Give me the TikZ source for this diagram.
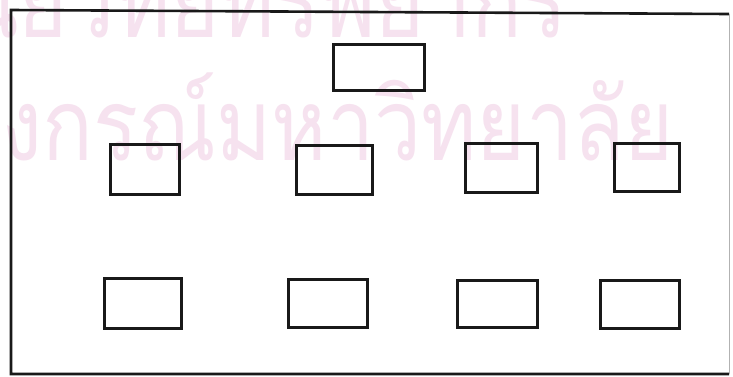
\documentclass[tikz,border=0pt]{standalone}
\usepackage{fontspec}
\newfontfamily\thaifont[Script=Thai]{Loma}
\definecolor{wmpink}{RGB}{246,226,239}
\definecolor{inkblack}{RGB}{25,25,25}
\tikzset{
  hbox/.style={draw=inkblack, line width=3pt, rectangle, inner sep=0pt, outer sep=0pt, fill=none},
  frameline/.style={draw=inkblack, line width=2.6pt},
  faintline/.style={draw=black!30, line width=1pt},
  watermark/.style={text=wmpink, inner sep=0pt, font=\thaifont\fontsize{100}{120}\selectfont}
}
\begin{document}
\begin{tikzpicture}[x=1pt,y=-1pt]
\useasboundingbox (0,0) rectangle (733,376);
\clip (0,0) rectangle (733,376);
\fill[white] (0,0) rectangle (733,376);
% watermark
\node[watermark, anchor=base east] (wm1) at (568,37) {\scalebox{0.84}[1]{ศูนย์วิทยทรัพยากร}};
\node[watermark, anchor=base east] (wm2) at (674,160) {\scalebox{0.84}[1]{จุฬาลงกรณ์มหาวิทยาลัย}};
% outer frame
\coordinate (tl) at (11,10);
\coordinate (tr) at (729,14);
\coordinate (bl) at (11,374);
\coordinate (br) at (729,374);
\draw[frameline] (tr) -- (tl) -- (bl) -- (br);
\draw[faintline] (tr) -- (br);
% boxes
\node[hbox, minimum width=91pt, minimum height=46pt] (top) at (379,67.5) {};
\node[hbox, minimum width=69pt, minimum height=50pt] (a1) at (145,169.5) {};
\node[hbox, minimum width=76pt, minimum height=49pt] (a2) at (334.5,170) {};
\node[hbox, minimum width=72pt, minimum height=49pt] (a3) at (501.5,168) {};
\node[hbox, minimum width=65pt, minimum height=48pt] (a4) at (647,167.5) {};
\node[hbox, minimum width=77pt, minimum height=50pt] (b1) at (143,303.5) {};
\node[hbox, minimum width=79pt, minimum height=48pt] (b2) at (328,303.5) {};
\node[hbox, minimum width=80pt, minimum height=47pt] (b3) at (497.5,304) {};
\node[hbox, minimum width=79pt, minimum height=48pt] (b4) at (640,304.5) {};
\end{tikzpicture}
\end{document}
